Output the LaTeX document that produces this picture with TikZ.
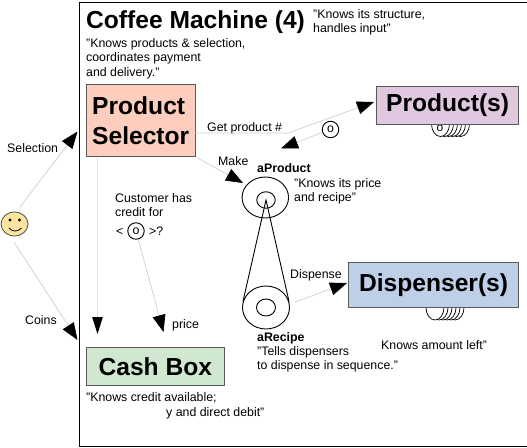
\documentclass[tikz,border=0pt]{standalone}
\usepackage{fontspec}
\setmainfont{Liberation Sans}
\usetikzlibrary{arrows.meta,shapes.geometric}
\newcommand{\tl}{\rule{0pt}{10pt}}
\newcommand{\qq}{\symbol{34}}
\tikzset{
  txt/.style={anchor=north west,inner sep=0pt,align=left,font=\fontsize{12.35}{14.6}\selectfont},
  boldtxt/.style={txt,font=\fontsize{12.35}{14.6}\selectfont\bfseries},
  boxlabel/.style={draw=black!65,line width=1.2pt,inner sep=0pt,font=\fontsize{24.6}{30}\selectfont\bfseries},
  conn/.style={draw=black!20,line width=0.65pt,-{Triangle[length=17pt,width=13pt,color=black]}},
  ring/.style={draw=black,line width=0.9pt,ellipse,inner sep=0pt,fill=white},
  coin/.style={draw=black,line width=0.9pt,circle,inner sep=0pt,minimum size=16.5pt,fill=white,font=\fontsize{12.35}{14}\selectfont},
  stack/.style={draw=black,line width=0.7pt,ellipse,inner sep=0pt,fill=white,minimum width=18pt,minimum height=25pt},
}
\begin{document}
\begin{tikzpicture}[x=1pt,y=-1pt]
\useasboundingbox (0,0) rectangle (527,447);
\fill[white] (0,0) rectangle (527,447);
\node[draw=black,line width=1.8pt,anchor=north west,minimum width=448pt,minimum height=444pt,inner sep=0pt] (frame) at (78.5,1.5) {};
% title
\node[anchor=north west,inner sep=0pt,font=\fontsize{24.6}{28}\selectfont\bfseries] (title) at (86,8.5) {\rule{0pt}{20pt}Coffee Machine (4)};
\node[txt] (t1) at (313,8) {\tl\qq Knows its structure,\\handles input\qq};
\node[txt] (t2) at (86,37) {\tl\qq Knows products \& selection,\\coordinates payment\\and delivery.\qq};
% stacks (behind boxes)
\foreach \i in {5,4,3,2,1} \node[stack] (ps\i) at ({440.5+\i*4},124) {};
\node[stack] (ps0) at (440.5,124) {};
\foreach \i in {5,4,3,2,1} \node[stack] (ds\i) at ({435+\i*4},307.5) {};
\node[stack] (ds0) at (435,307.5) {};
\node[inner sep=0pt,font=\fontsize{12}{14}\selectfont] (psO) at (440,128.5) {o};
% boxes
\node[boxlabel,anchor=north west,minimum width=109.5pt,minimum height=72pt,fill={rgb,255:red,253;green,205;blue,190}] (sel) at (85.5,84) {};
\node[anchor=north west,inner sep=0pt,align=left,font=\fontsize{24.6}{30}\selectfont\bfseries] (sellabel) at (92,96) {\rule{0pt}{18pt}Product\\Selector};
\node[boxlabel,fill={rgb,255:red,225;green,200;blue,225},anchor=north west,minimum width=142pt,minimum height=38pt] (prod) at (376,86) {\raisebox{-1.5pt}{Product(s)}};
\node[boxlabel,fill={rgb,255:red,190;green,208;blue,232},anchor=north west,minimum width=170pt,minimum height=45pt] (disp) at (348,262) {Dispenser(s)};
\node[boxlabel,fill={rgb,255:red,208;green,232;blue,208},anchor=north west,minimum width=138.5pt,minimum height=38pt] (cash) at (85.5,347) {Cash Box};
% rings
\node[ring,minimum width=46.5pt,minimum height=41pt] (po) at (265.3,197.5) {};
\node[ring,minimum width=18.5pt,minimum height=16.5pt] (pi) at (266,200) {};
\node[ring,minimum width=47pt,minimum height=43pt] (ro) at (266,307.5) {};
\node[ring,minimum width=19pt,minimum height=17pt] (ri) at (266,307.5) {};
\draw[black,line width=0.9pt] (ro.165) -- (pi.center) -- (ro.15);
% smiley
\node[draw=black!70,line width=0.8pt,ellipse,fill={rgb,255:red,252;green,228;blue,160},minimum width=27pt,minimum height=24pt,inner sep=0pt] (face) at (14.5,224) {};
\fill[black] (10,220) circle (1.7);
\fill[black] (19.5,220) circle (1.7);
\draw[black,line width=0.8pt] (9,228) .. controls (12,232) and (18,232) .. (21.5,228);
% coins
\node[coin] (oget) at (330.5,129.5) {o};
\node[coin] (ocred) at (136,231) {o};
% labels
\node[txt] (lsel) at (7,142) {\tl Selection};
\node[txt] (lcoins) at (25,314) {\tl Coins};
\node[txt] (lget) at (207,121) {\tl Get product \#};
\node[txt] (lmake) at (218,155) {\tl Make};
\node[boldtxt] (lap) at (257,162) {\tl aProduct};
\node[txt] (lapt) at (294,177) {\tl\qq Knows its price\\and recipe\qq};
\node[txt] (lcust) at (115,192) {\tl Customer has\\credit for};
\node[txt] (llt) at (116,225) {\tl<};
\node[txt] (lgt) at (149,225) {\tl>?};
\node[txt] (lprice) at (172,318) {\tl price};
\node[txt] (ldisp) at (290,268) {\tl Dispense};
\node[boldtxt] (lar) at (257,331) {\tl aRecipe};
\node[txt] (lart) at (257,345) {\tl\qq Tells dispensers\\to dispense in sequence.\qq};
\node[txt] (lamt) at (381,339) {\tl Knows amount left\qq};
\node[txt] (lcred) at (86,391) {\tl\qq Knows credit available;};
\node[txt] (lcred2) at (166,406) {\tl y and direct debit\qq};
% connector ends
\coordinate (a1) at (20,207);
\coordinate (a2) at (77.5,131.5);
\coordinate (b1) at (14,242);
\coordinate (b2) at (77.5,340);
\coordinate (c1) at (288,133);
\coordinate (c2) at (374,102);
\coordinate (d1) at (322,132.5);
\coordinate (d2) at (281,148.5);
\coordinate (e2) at (243,183);
\coordinate (f1) at (97.5,156.6);
\coordinate (f2) at (97.5,334);
\coordinate (g1) at (138.5,240);
\coordinate (g2) at (163.5,332);
\coordinate (h1) at (295,302);
\coordinate (h2) at (347,283);
\coordinate (s1) at (195,133);
% connectors
\draw[conn] (a1) -- (a2);
\draw[conn] (b1) -- (b2);
\draw[conn] (s1) -- (c1) -- (c2);
\draw[conn] (d1) -- (d2);
\draw[conn] (sel.south east) -- (e2);
\draw[conn,draw=black!12,line width=1pt,-{Triangle[length=17pt,width=10.5pt,color=black]}] (f1) -- (f2);
\draw[conn] (g1) -- (g2);
\draw[conn] (h1) -- (h2);
\end{tikzpicture}
\end{document}
